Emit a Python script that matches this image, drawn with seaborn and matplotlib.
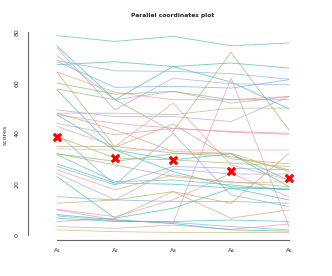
import numpy as np
import pandas as pd
import matplotlib
matplotlib.use("Agg")
import matplotlib.pyplot as plt
import seaborn as sns

attributes = ["A₁", "A₂", "A₃", "A₄", "A₅"]

a1 = [78.6, 74.5, 68.4, 67.1, 68.7, 73.7, 70.7, 64.2, 64.2, 57.5, 59.9, 57.2, 48.0, 49.3,
      47.4, 44.0, 47.4, 48.0, 9.9, 42.8, 40.1, 38.8, 34.9, 34.0, 32.0, 31.6, 28.0, 27.0,
      23.0, 24.3, 25.7, 15.1, 12.5, 10.1, 5.3, 7.5, 6.6, 3.3, 2.0, 32.0, 8.0]
a2 = [76.3, 53.3, 58.2, 68.3, 64.7, 49.3, 53.3, 56.2, 34.5, 53.3, 55.5, 33.5, 48.0, 46.7,
      44.0, 39.5, 33.5, 41.4, 5.9, 34.9, 19.7, 30.3, 34.9, 33.5, 27.6, 21.0, 20.5, 19.7,
      6.6, 13.8, 17.8, 13.8, 13.8, 7.2, 6.6, 5.5, 5.3, 2.6, 1.3, 29.0, 6.0]
a3 = [78.3, 66.4, 58.6, 66.4, 64.5, 61.8, 56.6, 53.3, 43.7, 40.8, 56.6, 29.6, 47.4, 46.7,
      42.1, 42.0, 25.0, 32.9, 4.6, 52.0, 40.1, 29.6, 32.3, 33.5, 23.0, 21.7, 20.0, 27.0,
      10.5, 26.0, 23.7, 13.2, 17.1, 13.8, 17.1, 5.0, 5.3, 3.9, 1.0, 32.0, 4.5]
a4 = [74.6, 60.3, 57.9, 67.8, 63.6, 59.6, 52.0, 53.3, 30.0, 72.0, 53.3, 32.0, 50.0, 44.7,
      40.8, 40.5, 19.0, 32.2, 61.8, 27.6, 15.8, 28.3, 30.9, 33.5, 21.0, 19.7, 18.5, 26.3,
      18.4, 24.0, 20.5, 13.2, 12.5, 24.3, 6.6, 3.3, 5.9, 2.2, 1.0, 32.0, 2.0]
a5 = [75.7, 49.7, 61.2, 65.8, 61.4, 59.2, 54.6, 54.6, 28.0, 41.4, 53.3, 19.0, 50.0, 54.6,
      40.1, 39.7, 17.8, 25.0, 3.3, 21.7, 11.2, 27.0, 25.7, 33.5, 19.0, 17.8, 13.8, 25.7,
      18.4, 24.0, 21.0, 12.5, 32.2, 15.0, 9.9, 2.0, 5.3, 4.3, 1.0, 21.5, 1.5]
line_colors = ["#4CB9CC", "#39BEB1", "#64B5D6", "#3CBF9E", "#8DAEE0", "#ACA4E2", "#C29DDE",
               "#E6A07F", "#C8A76A", "#9DB469", "#86B875", "#39BEB1", "#9CC08A", "#C29DDE",
               "#D995CF", "#E495A5", "#39BEB1", "#D9A36E", "#E495B8", "#E8A0A0", "#7DB0DD",
               "#ABB065", "#BDAB66", "#E8A8C0", "#ABB065", "#4CB9CC", "#39BEB1", "#7DB0DD",
               "#39BEB1", "#ACA4E2", "#E6A07F", "#7DB0DD", "#BDAB66", "#E495B8", "#C8A76A",
               "#7DB0DD", "#4CB9CC", "#E495A5", "#D2B27A", "#72BB83", "#39BEB1"]
means = [38.8, 30.3, 29.4, 25.3, 22.3]

rows = []
for i in range(len(a1)):
    for j, vals in enumerate([a1, a2, a3, a4, a5]):
        rows.append({"id": i, "x": j + 1, "score": vals[i]})
df = pd.DataFrame(rows)
mdf = pd.DataFrame({"x": np.arange(1, 6), "score": means})

sns.set_style("white")
plt.rcParams["font.family"] = ["DejaVu Sans"]

fig = plt.figure(figsize=(3.32, 2.76), dpi=100)
ax = fig.add_axes([0.1437, 0.1304, 0.7548, 0.7627])

sns.lineplot(data=df, x="x", y="score", hue="id", palette=line_colors, units="id",
             estimator=None, legend=False, linewidth=0.6, alpha=0.75, ax=ax)
sns.scatterplot(data=mdf, x="x", y="score", marker="x", color="red", s=28,
                linewidth=2.3, ax=ax, zorder=5)

for s in ["top", "right"]:
    ax.spines[s].set_visible(False)
ax.spines["left"].set_position(("outward", 14.4))
ax.spines["bottom"].set_position(("outward", 0))
ax.spines["left"].set_bounds(0, 80)
ax.spines["bottom"].set_bounds(1, 5)
for s in ["left", "bottom"]:
    ax.spines[s].set_color("#666666")
    ax.spines[s].set_linewidth(0.8)

ax.set_xlim(0.84, 5.16)
ax.set_ylim(-2, 81)
ax.set_xticks([1, 2, 3, 4, 5])
ax.set_xticklabels(attributes)
ax.set_yticks([0, 20, 40, 60, 80])
ax.set_yticklabels(["0", "20", "40", "60", "80"], rotation=90, va="center")
ax.tick_params(axis="both", length=3, width=0.8, color="#666666", pad=3,
               labelsize=4.5, labelcolor="#333333")
ax.set_xlabel("")
ax.set_ylabel("scores", fontsize=4.5, color="#333333", labelpad=5)
ax.set_title("Parallel coordinates plot", fontsize=4.3, fontweight="bold", pad=9)

fig.savefig("out.png", dpi=100)
